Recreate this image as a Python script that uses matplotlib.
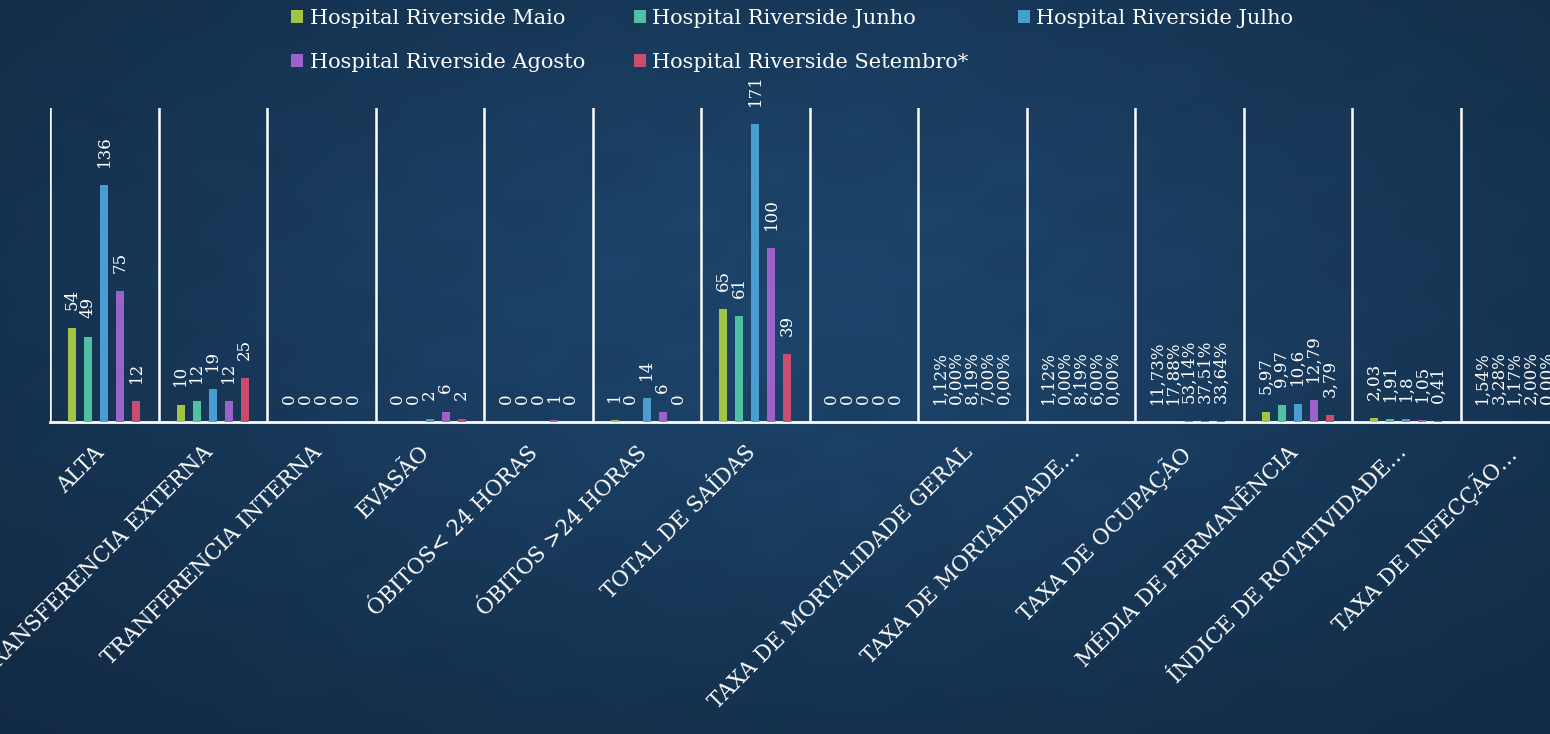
import numpy as np
import matplotlib
matplotlib.use('Agg')
import matplotlib.pyplot as plt
from matplotlib.patches import Patch

categories = ['ALTA', 'TRANSFERENCIA EXTERNA', 'TRANFERENCIA INTERNA', 'EVASÃO',
              'ÓBITOS< 24 HORAS', 'ÓBITOS >24 HORAS', 'TOTAL DE SAÍDAS', '',
              'TAXA DE MORTALIDADE GERAL', 'TAXA DE MORTALIDADE…', 'TAXA DE OCUPAÇÃO',
              'MÉDIA DE PERMANÊNCIA', 'ÍNDICE DE ROTATIVIDADE…', 'TAXA DE INFECÇÃO…']
formats = ['int', 'int', 'int', 'int', 'int', 'int', 'int', 'int',
           'pct', 'pct', 'pct', 'dec', 'dec', 'pct']

series_names = ['Hospital Riverside Maio', 'Hospital Riverside Junho', 'Hospital Riverside Julho',
                'Hospital Riverside Agosto', 'Hospital Riverside Setembro*']
colors = ['#a2c444', '#4fc0a2', '#4a9dd0', '#9b63c9', '#c94d70']

maio     = [54, 10, 0, 0, 0, 1, 65, 0, 0.0112, 0.0112, 0.1173, 5.97, 2.03, 0.0154]
junho    = [49, 12, 0, 0, 0, 0, 61, 0, 0.0000, 0.0000, 0.1788, 9.97, 1.91, 0.0328]
julho    = [136, 19, 0, 2, 0, 14, 171, 0, 0.0819, 0.0819, 0.5314, 10.6, 1.8, 0.0117]
agosto   = [75, 12, 0, 6, 1, 6, 100, 0, 0.0700, 0.0600, 0.3751, 12.79, 1.05, 0.0200]
setembro = [12, 25, 0, 2, 0, 0, 39, 0, 0.0000, 0.0000, 0.3364, 3.79, 0.41, 0.0000]
series = [maio, junho, julho, agosto, setembro]


def fmt(v, kind):
    if kind == 'int':
        return '%d' % v
    if kind == 'pct':
        return ('%.2f' % (v * 100)).replace('.', ',') + '%'
    s = ('%.2f' % v).rstrip('0').rstrip('.')
    return s.replace('.', ',')


W, H = 1550, 734
fig = plt.figure(figsize=(W / 100, H / 100), dpi=100)

# background: dark blue gradient with a faint pattern
bg = fig.add_axes([0, 0, 1, 1], zorder=-10)
yy, xx = np.mgrid[0:1:367j, 0:1:775j]
glow = np.exp(-((xx - 0.52) / 0.55) ** 2 - ((yy - 0.4) / 0.6) ** 2)
pattern = 0.5 + 0.5 * np.sin(xx * 60) * np.sin(yy * 48) * np.cos((xx + yy) * 25)
dark = np.array([0x10, 0x26, 0x3e]) / 255
light = np.array([0x1d, 0x45, 0x6c]) / 255
img = dark + (light - dark) * (glow * (0.85 + 0.15 * pattern))[..., None]
bg.imshow(img, aspect='auto', extent=[0, 1, 0, 1], interpolation='bilinear')
bg.axis('off')

ax = fig.add_axes([50 / W, 312 / H, 1519 / W, 314 / H])
ax.patch.set_alpha(0)

x = np.arange(len(categories))
pitch = 0.1475
width = 0.077
for i, (vals, col) in enumerate(zip(series, colors)):
    pos = x + (i - 2) * pitch
    ax.bar(pos, vals, width=width, color=col, zorder=3)
    for p, v, k in zip(pos, vals, formats):
        ax.annotate(fmt(v, k), (p, v), xytext=(0, 13), textcoords='offset points',
                    rotation=90, ha='center', va='bottom', color='white',
                    fontsize=12, family='DejaVu Serif')

ax.set_xlim(-0.5, len(categories) - 0.5)
ax.set_ylim(0, 180)
for b in np.arange(-0.5, len(categories), 1.0):
    ax.axvline(b, color='white', lw=1.8, zorder=2)

for s in ['top', 'right', 'left']:
    ax.spines[s].set_visible(False)
ax.spines['bottom'].set_color('white')
ax.spines['bottom'].set_linewidth(2)
ax.set_yticks([])
ax.set_xticks(x - 0.1)
ax.set_xticklabels(categories, rotation=45, ha='right', va='top', rotation_mode='anchor',
                   color='white', fontsize=15.5, family='DejaVu Serif')
ax.tick_params(axis='x', length=0, pad=14)

# legend filled column by column: reorder so rows read Maio/Junho/Julho, Agosto/Setembro
order = [0, 3, 1, 4, 2]
handles = [Patch(facecolor=colors[j], edgecolor='none') for j in order]
labels = [series_names[j] for j in order]
leg = fig.legend(handles, labels, loc='upper left', bbox_to_anchor=(272 / W, 1.013),
                 ncol=3, frameon=False, handlelength=0.6, handleheight=0.6,
                 handletextpad=0.3, columnspacing=2.35, labelspacing=1.18,
                 prop={'family': 'DejaVu Serif', 'size': 15})
for t in leg.get_texts():
    t.set_color('white')

fig.savefig('out.png', dpi=100)
